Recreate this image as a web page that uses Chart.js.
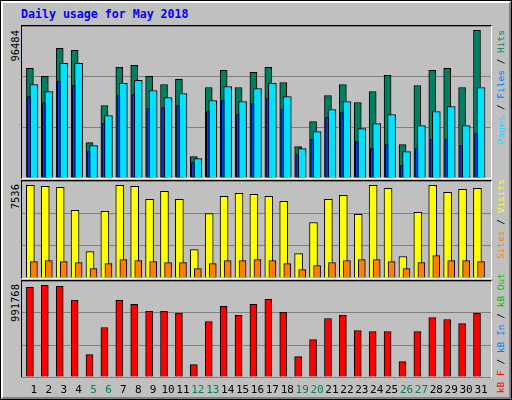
<!DOCTYPE html>
<html>
<head>
<meta charset="utf-8">
<script src="https://cdn.jsdelivr.net/npm/chart.js@4.4.1/dist/chart.umd.min.js"></script>
<style>
  body { margin: 0; }
  #page { position: relative; width: 510px; height: 398px; background: #c0c0c0; border: 1px solid #000; overflow: hidden; }
  #bevel { position: absolute; left: 0; top: 0; width: 506px; height: 394px; border-left: 2px solid #fff; border-top: 2px solid #fff; border-right: 2px solid #808080; border-bottom: 2px solid #808080; }
  .frame { position: absolute; border-left: 1px solid #000; border-top: 1px solid #000; border-right: 1px solid #fff; border-bottom: 1px solid #fff; }
  canvas { position: absolute; }
  .vt { position: absolute; writing-mode: vertical-rl; transform: rotate(180deg); font-family: "DejaVu Sans Mono", monospace; font-size: 9.5px; line-height: 10px; white-space: nowrap; }
  #title { position: absolute; left: 20px; top: 6px; font: bold 11.6px "DejaVu Sans Mono", monospace; color: #0000ff; }
</style>
</head>
<body>
<div id="page">
  <div id="bevel"></div>
  <div id="title">Daily usage for May 2018</div>
  <div class="frame" style="left:20px;top:24px;width:469px;height:152px"></div>
  <div class="frame" style="left:20px;top:179px;width:469px;height:97px"></div>
  <div class="frame" style="left:20px;top:279px;width:469px;height:96px"></div>
  <canvas id="c1" style="left:21px;top:25px" width="469" height="152"></canvas>
  <canvas id="c2" style="left:21px;top:180px" width="469" height="97"></canvas>
  <canvas id="c3" style="left:21px;top:280px" width="469" height="118"></canvas>

  <div class="vt" style="left:9px;top:29px;font-size:10.5px">96484</div>
  <div class="vt" style="left:9px;top:183px;font-size:10.5px">7536</div>
  <div class="vt" style="left:9px;top:283px;font-size:10.5px">991768</div>

  <div class="vt" style="left:495px;top:29px"><span style="color:#00e0ff">Pages</span> / <span style="color:#0080ff">Files</span> / <span style="color:#008060">Hits</span></div>
  <div class="vt" style="left:495px;top:178px"><span style="color:#ff8000">Sites</span> / <span style="color:#ffff00">Visits</span></div>
  <div class="vt" style="left:495px;top:272px"><span style="color:#ff0000">kB F</span> / <span style="color:#0080ff">kB In</span> / <span style="color:#00c000">kB Out</span></div>
</div>
<script>
// days of the month
var days = [];
for (var d = 1; d <= 31; d++) days.push(d);
var weekendDays = [5, 6, 12, 13, 19, 20, 26, 27];

// values
var hits = [71600,66360,84700,83390,23140,47370,72260,73570,66360,61120,64400,13970,59160,70290,59160,68980,72260,62430,20520,36890,53920,61120,49340,56540,67020,21830,60470,70290,71600,59160,96484];
var pages = [61120,56540,74880,74880,21180,40820,61780,63740,57190,52610,55230,12660,50650,59810,49990,58500,61780,53270,19210,30340,44750,49990,32310,35580,41480,17250,34270,43440,46720,34270,59160];
var files = [53270,49340,63090,60470,17250,35580,53920,54580,45410,46060,47370,10040,43440,50650,41480,48680,51960,44750,15280,25100,39510,42790,23790,19210,21830,8080,19210,25100,25100,21180,29030];
var visits = [7536,7454,7372,5495,2149,5414,7536,7454,6393,7046,6393,2312,5250,6638,6883,6801,6638,6230,1986,4516,6393,6719,5169,7536,7291,1741,5332,7536,6964,7209,7291];
var sites = [1333,1414,1333,1251,762,1170,1496,1414,1333,1251,1251,762,1170,1414,1414,1496,1414,1170,680,1006,1251,1414,1496,1496,1333,762,1251,1822,1414,1414,1333];
var kbytes = [970050,991768,980910,828890,242510,535700,828890,785450,709450,709450,687720,133930,600850,763730,666000,785450,839740,698580,220800,405400,633430,666000,503120,492270,492270,166500,492270,644290,622570,579140,687720];

// axis tops (panel height above the largest value)
var hitsTop = 99322, visitsTop = 7890, kbTop = 1038800;

function pts(arr, shift) {
    return arr.map(function (v, i) { return { x: days[i] + shift, y: v }; });
}

function bars(data, color, thick, order) {
    return {
        data: data, backgroundColor: color, borderColor: '#000', borderWidth: 1,
        barThickness: thick, order: order, borderSkipped: 'bottom', grouped: false
    };
}

function scales(top) {
    return {
        x: { type: 'linear', min: 0.2, max: 31.67, offset: false, display: false },
        y: {
            min: 0, max: top, afterBuildTicks: function (ax) {
                ax.ticks = [0, top / 3, top * 2 / 3, top].map(function (v) { return { value: v }; });
            },
            grid: { color: '#808080', lineWidth: 1, drawTicks: false },
            border: { display: false }, ticks: { display: false }
        }
    };
}

var common = {
    responsive: false, animation: false, events: [],
    plugins: { legend: { display: false }, tooltip: { enabled: false } }
};

function opts(top, pad) {
    return Object.assign({}, common, { scales: scales(top), layout: { padding: pad || 0 } });
}

new Chart(document.getElementById('c1'), {
    type: 'bar',
    data: { datasets: [
        bars(pts(hits, -0.27), '#008060', 7, 3),
        bars(pts(pages, 0), '#00e0ff', 8, 2),
        bars(pts(files, -0.33), '#0040ff', 3, 1)
    ] },
    options: opts(hitsTop)
});

new Chart(document.getElementById('c2'), {
    type: 'bar',
    data: { datasets: [
        bars(pts(visits, -0.24), '#ffff00', 8, 2),
        bars(pts(sites, 0), '#ff8000', 7, 1)
    ] },
    options: opts(visitsTop)
});

// day numbers under the bottom panel
var dayLabels = {
    id: 'dayLabels',
    afterDraw: function (chart) {
        var ctx = chart.ctx, xs = chart.scales.x;
        ctx.save();
        ctx.font = '11px "DejaVu Sans Mono", monospace';
        ctx.textAlign = 'center';
        ctx.textBaseline = 'middle';
        days.forEach(function (d) {
            ctx.fillStyle = weekendDays.indexOf(d) >= 0 ? '#008060' : '#000';
            ctx.fillText(String(d), xs.getPixelForValue(d), chart.chartArea.bottom + 13);
        });
        ctx.restore();
    }
};

new Chart(document.getElementById('c3'), {
    type: 'bar',
    data: { datasets: [ bars(pts(kbytes, -0.27), '#ff0000', 7, 1) ] },
    options: opts(kbTop, { bottom: 22 }),
    plugins: [dayLabels]
});
</script>
</body>
</html>
